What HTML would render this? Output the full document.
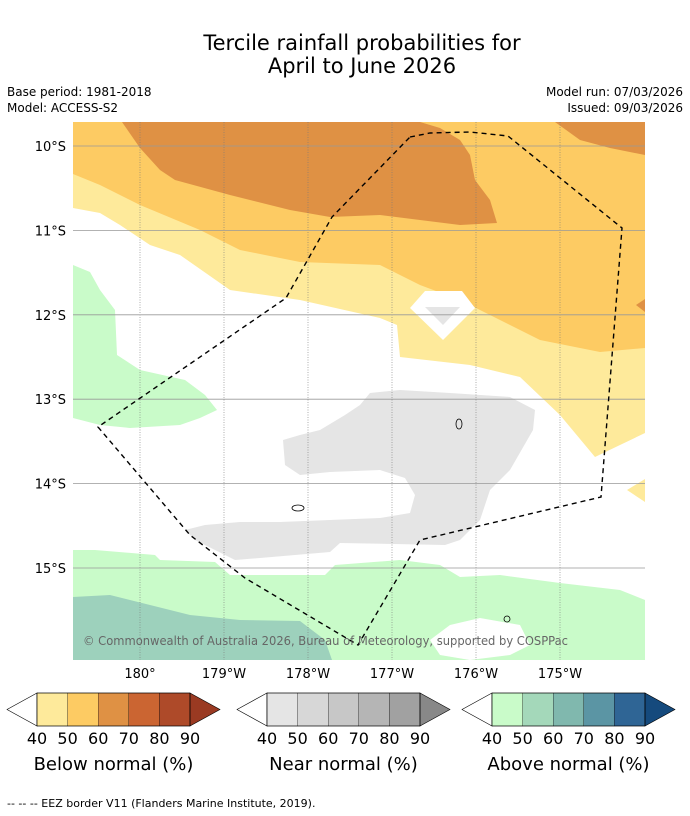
<!DOCTYPE html>
<html><head><meta charset="utf-8"><style>
body{margin:0;background:#fff;width:690px;height:816px;overflow:hidden;font-family:"DejaVu Sans","Liberation Sans",sans-serif}
svg{display:block;font-family:"DejaVu Sans","Liberation Sans",sans-serif}
</style></head><body>
<svg id="s" width="690" height="816" xmlns="http://www.w3.org/2000/svg">
<text x="362" y="50" font-size="21" text-anchor="middle">Tercile rainfall probabilities for</text>
<text x="362" y="73" font-size="21" text-anchor="middle">April to June 2026</text>
<text x="7" y="96" font-size="12">Base period: 1981-2018</text>
<text x="7" y="112" font-size="12">Model: ACCESS-S2</text>
<text x="683" y="96" font-size="12" text-anchor="end">Model run: 07/03/2026</text>
<text x="683" y="112" font-size="12" text-anchor="end">Issued: 09/03/2026</text>
<defs><clipPath id="mc"><rect x="73" y="122" width="572" height="538"/></clipPath></defs>
<g id="map" clip-path="url(#mc)">
<rect x="73" y="122" width="572" height="538" fill="#fff"/>
<polygon fill="#FEEA9B" points="73,122 645,122 645,433 620,445 595,457 560,415 520,377 470,365 400,357 397,325 380,318 300,300 230,290 180,255 150,245 120,225 100,213 73,208"/>
<polygon fill="#FEEA9B" points="627,490 645,479 645,502"/>
<polygon fill="#FDCB63" points="73,122 645,122 645,348 600,352 540,340 500,320 460,300 420,285 380,265 300,262 240,250 200,230 140,205 100,185 73,174"/>
<polygon fill="#DF9144" points="122,122 140,148 160,170 175,180 230,195 290,210 330,217 380,215 420,220 460,225 497,223 490,200 475,180 470,155 460,140 440,128 420,122"/>
<polygon fill="#DF9144" points="555,122 580,140 610,148 645,155 645,122"/>
<polygon fill="#DF9144" points="636,305 645,299 645,312"/>
<polygon fill="#fff" points="410,308 425,291 462,291 475,308 443,340"/>
<polygon fill="#E5E5E5" points="425,307 460,307 443,325"/>
<polygon fill="#C9FBC9" points="73,265 90,272 100,290 115,310 117,355 140,370 185,380 205,395 217,410 200,418 180,425 130,428 100,425 73,418"/>
<polygon fill="#E5E5E5" points="370,393 400,390 450,393 510,397 535,410 533,430 510,470 490,490 480,520 460,540 445,545 340,543 330,552 260,558 235,560 195,540 185,530 205,525 240,522 280,522 330,520 380,518 410,513 415,495 405,478 380,470 330,472 300,475 285,465 283,440 300,435 320,430 345,415 360,405"/>
<polygon fill="#C9FBC9" points="73,550 95,550 155,555 160,560 215,562 230,575 325,575 335,565 400,560 440,565 460,577 500,575 560,583 620,590 645,600 645,660 73,660"/>
<polygon fill="#9DD1BC" points="73,597 110,595 150,605 190,615 240,620 300,621 325,640 332,660 73,660"/>
<polygon fill="#fff" points="430,640 450,625 480,618 520,625 530,645 510,655 470,660 440,655"/>
<g id="grid"></g>
<polyline fill="none" stroke="#000" stroke-width="1.4" stroke-dasharray="5,4" points="410,137 430,133 470,132 508,136 622,228 601,497 420,540 358,645 245,578 190,535 98,427 286,298 332,217 410,137"/>
<ellipse cx="459" cy="424" rx="3" ry="5" fill="none" stroke="#000" stroke-width="0.8"/>
<ellipse cx="298" cy="508" rx="6" ry="3" fill="none" stroke="#000" stroke-width="0.8"/>
<ellipse cx="507" cy="619" rx="3" ry="3" fill="none" stroke="#000" stroke-width="0.8"/>
<text x="83" y="645" font-size="12" fill="#666" textLength="485" lengthAdjust="spacingAndGlyphs">© Commonwealth of Australia 2026, Bureau of Meteorology, supported by COSPPac</text>
</g>
<g id="axes"></g>
<g id="cbars"></g>
<text x="7" y="807" font-size="11">--  --  -- EEZ border V11 (Flanders Marine Institute, 2019).</text>
</svg>
<script>
const lonTicks=["180°","179°W","178°W","177°W","176°W","175°W"];
const lonVals=[180,181,182,183,184,185];
const latTicks=["10°S","11°S","12°S","13°S","14°S","15°S"];
const latVals=[10,11,12,13,14,15];
const tickVals=[40,50,60,70,80,90];
const belowColors=["#FEEA9B","#FDCB63","#DF9144","#CB6532","#AE4A29"];
const nearColors=["#E5E5E5","#D7D7D7","#C7C7C7","#B5B5B5","#A1A1A1"];
const aboveColors=["#C9FBC9","#A4D8BA","#80B8AE","#5B95A4","#2F6595"];
const NS="http://www.w3.org/2000/svg";
const xOf=l=>140+(l-180)*84;
const yOf=l=>146+(l-10)*84.4;
function mk(t,a,p){const e=document.createElementNS(NS,t);for(const k in a)e.setAttribute(k,a[k]);p.appendChild(e);return e;}
const grid=document.getElementById('grid'),axes=document.getElementById('axes');
lonVals.forEach((v,i)=>{const x=xOf(v);
 const l=mk('line',{x1:x,x2:x,y1:122,y2:660,stroke:'#777','stroke-width':0.6,'stroke-dasharray':'1,1.5'},grid);
 
 
 const t=mk('text',{x:x,y:678,'font-size':13,'text-anchor':'middle'},axes);t.textContent=lonTicks[i];
 
 });
latVals.forEach((v,i)=>{const y=yOf(v);
 const l=mk('line',{x1:73,x2:645,y1:y,y2:y,stroke:'#999','stroke-width':0.8},grid);
 
 
 const t=mk('text',{x:66,y:y+5,'font-size':13,'text-anchor':'end'},axes);t.textContent=latTicks[i];
 
 });
const cb=document.getElementById('cbars');
function bar(x0,cols,endCol,title,name){
 const w=30.6,y=693,h=33,x1=x0+30,xe=x1+5*w;
 const g=mk('g',{},cb);
 
 
 const tl=mk('polygon',{points:`${x1},${y} ${x0},${y+h/2} ${x1},${y+h}`,fill:'#fff',stroke:'#000','stroke-width':0.6},g);
 
 
 cols.forEach((c,i)=>{const r=mk('rect',{x:x1+i*w,y:y,width:w,height:h,fill:c,stroke:'#000','stroke-width':0.3},g);
  
  });
 const tr=mk('polygon',{points:`${xe},${y} ${xe+30},${y+h/2} ${xe},${y+h}`,fill:endCol,stroke:'#000','stroke-width':0.6},g);
 
 
 mk('rect',{x:x1,y:y,width:5*w,height:h,fill:'none',stroke:'#000','stroke-width':0.6},g);
 tickVals.forEach((v,i)=>{const t=mk('text',{x:x1+i*w,y:744,'font-size':16,'text-anchor':'middle'},g);t.textContent=v;
  
  });
 const t=mk('text',{x:x1+2.5*w,y:770,'font-size':18,'text-anchor':'middle'},g);t.textContent=title;
 
 
}
bar(7,belowColors,"#9A3A22","Below normal (%)","below-normal-colorbar");
bar(237,nearColors,"#888888","Near normal (%)","near-normal-colorbar");
bar(462,aboveColors,"#154A7D","Above normal (%)","above-normal-colorbar");
</script>
</body></html>
